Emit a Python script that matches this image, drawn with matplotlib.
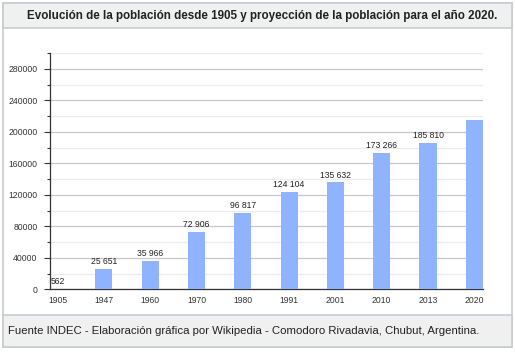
import matplotlib.pyplot as plt
import numpy as np
from matplotlib.patches import Rectangle
from matplotlib.ticker import MultipleLocator

years = ["1905", "1947", "1960", "1970", "1980", "1991", "2001", "2010", "2013", "2020"]
population = [562, 25651, 35966, 72906, 96817, 124104, 135632, 173266, 185810, 214500]
labels = ["562", "25 651", "35 966", "72 906", "96 817", "124 104", "135 632",
          "173 266", "185 810", ""]

title = "Evolución de la población desde 1905 y proyección de la población para el año 2020."
footer = "Fuente INDEC - Elaboración gráfica por Wikipedia - Comodoro Rivadavia, Chubut, Argentina."

plt.rcParams["font.family"] = ["Liberation Sans", "DejaVu Sans"]

W, H = 515, 353
fig = plt.figure(figsize=(W / 100, H / 100), dpi=100)


def px_rect(x0, y0, x1, y1, **kw):
    # rectangle given in pixel coords from top-left
    fig.add_artist(Rectangle((x0 / W, 1 - y1 / H), (x1 - x0) / W, (y1 - y0) / H,
                             transform=fig.transFigure, zorder=-5, **kw))


border = "#c8ccd1"
px_rect(3, 3, 511.5, 347, facecolor="white", edgecolor=border, lw=1.2)
px_rect(3, 3, 511.5, 28, facecolor="#f0f0f0", edgecolor=border, lw=1.2)
px_rect(3, 315, 511.5, 347, facecolor="#f0f0f0", edgecolor=border, lw=1.2)

fig.text(262 / W, 1 - 15.5 / H, title, ha="center", va="center",
         fontsize=8.4, fontweight="bold", color="#202122")
fig.text(8 / W, 1 - 331 / H, footer, ha="left", va="center",
         fontsize=8.2, color="#202122")

ax = fig.add_axes([50 / W, 1 - 289.3 / H, 433 / W, 236.3 / H])
ax.patch.set_alpha(0)
x = np.arange(len(years))
bars = ax.bar(x, population, width=0.37, color="#8fb3ff", zorder=3)
for b, lab in zip(bars, labels):
    if lab:
        ax.text(b.get_x() + b.get_width() / 2, b.get_height() + 3500, lab,
                ha="center", va="bottom", fontsize=6.2, color="#222222", zorder=4)

ax.set_ylim(0, 300000)
ax.set_xlim(-0.162, 9.186)
ax.yaxis.set_major_locator(MultipleLocator(40000))
ax.yaxis.set_minor_locator(MultipleLocator(20000))
ax.set_yticks(np.arange(0, 300001, 40000))
ax.set_yticklabels([str(v) for v in range(0, 300001, 40000)])
ax.set_xticks(x)
ax.set_xticklabels(years)
ax.grid(axis="y", which="major", color="#c8c8c8", lw=0.9, zorder=0)
ax.grid(axis="y", which="minor", color="#ececec", lw=0.9, zorder=0)
ax.axhline(300000, color="#ececec", lw=0.9, zorder=0)

for s in ["top", "right"]:
    ax.spines[s].set_visible(False)
ax.spines["left"].set_color("#333333")
ax.spines["bottom"].set_color("#333333")
ax.spines["left"].set_linewidth(0.9)
ax.spines["bottom"].set_linewidth(0.9)
ax.tick_params(axis="y", which="major", length=4, width=0.8, color="#333333",
               labelsize=6.2, labelcolor="#333333", pad=5)
ax.tick_params(axis="y", which="minor", length=2, width=0.8, color="#333333")
ax.tick_params(axis="x", length=0, labelsize=6.2, labelcolor="#333333", pad=4.5)

fig.savefig("out.png", dpi=100)
